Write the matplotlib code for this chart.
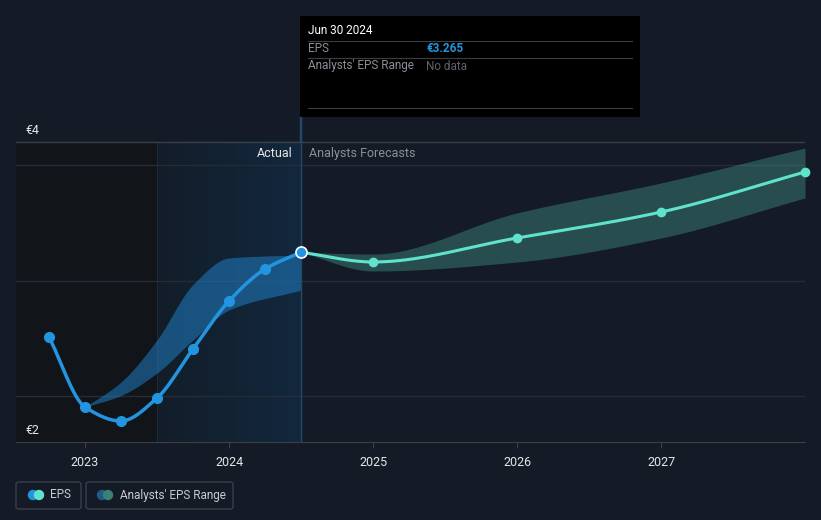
import numpy as np
import matplotlib
matplotlib.use("Agg")
import matplotlib.pyplot as plt
from matplotlib.patches import Rectangle, FancyBboxPatch, Circle

plt.rcParams['font.family'] = ['Roboto', 'DejaVu Sans']

# actual EPS (quarterly, year fractions)
act_x = [2022.75, 2023.0, 2023.25, 2023.5, 2023.75, 2024.0, 2024.25, 2024.5]
act_y = [2.70, 2.233, 2.14, 2.293, 2.62, 2.94, 3.153, 3.265]

# past analyst range
past_x = [2023.0, 2023.25, 2023.5, 2023.75, 2024.0, 2024.5]
past_hi = [2.233, 2.40, 2.68, 3.05, 3.227, 3.247]
past_lo = [2.233, 2.31, 2.46, 2.68, 2.88, 3.013]

# forecast EPS
fc_x = [2024.5, 2025.0, 2026.0, 2027.0, 2028.0]
fc_y = [3.265, 3.20, 3.36, 3.533, 3.80]
fc_hi = [3.265, 3.253, 3.527, 3.727, 3.96]
fc_lo = [3.265, 3.14, 3.20, 3.36, 3.627]

years = [2023, 2024, 2025, 2026, 2027]
grid_vals = [2.307, 3.073, 3.847, 4.0]

BG = '#151b26'
BLUE = '#2394df'
TEAL = '#5fe3cc'


def monotone(xs, ys, n=200):
    # monotone cubic (like d3 curveMonotoneX), only for drawing
    x = np.asarray(xs, float)
    y = np.asarray(ys, float)
    h = np.diff(x)
    d = np.diff(y) / h
    m = np.zeros_like(y)
    m[0], m[-1] = d[0], d[-1]
    for i in range(1, len(y) - 1):
        if d[i - 1] * d[i] <= 0:
            m[i] = 0
        else:
            m[i] = 3 * (h[i - 1] + h[i]) / ((2 * h[i] + h[i - 1]) / d[i - 1] + (h[i] + 2 * h[i - 1]) / d[i])
    xx = np.linspace(x[0], x[-1], n)
    k = np.clip(np.searchsorted(x, xx) - 1, 0, len(x) - 2)
    t = (xx - x[k]) / h[k]
    h00 = 2 * t**3 - 3 * t**2 + 1
    h10 = t**3 - 2 * t**2 + t
    h01 = -2 * t**3 + 3 * t**2
    h11 = t**3 - t**2
    yy = h00 * y[k] + h10 * h[k] * m[k] + h01 * y[k + 1] + h11 * h[k] * m[k + 1]
    return xx, yy


W, H = 821, 520
fig = plt.figure(figsize=(W / 100, H / 100), dpi=100, facecolor=BG)


def fx(px):
    return px / W


def fy(py):
    return 1 - py / H


ax = fig.add_axes([fx(16), fy(442), fx(805) - fx(16), fy(100) - fy(442)])
ax.set_facecolor(BG)
x0 = 2023 + (16 - 85) / 144
ymax = 2 + 342 / 150
ax.set_xlim(x0, 2028.0)
ax.set_ylim(2, ymax)

# shaded regions (only up to the 4 line)
top = (4.0 - 2) / (ymax - 2)
ax.axvspan(x0, 2023.5, ymax=top, color='#111419', zorder=0, lw=0)
grad = np.linspace(0, 1, 256).reshape(1, -1)
cmap = matplotlib.colors.LinearSegmentedColormap.from_list('g', ['#121d29', '#12283d'])
ax.imshow(grad, extent=[2023.5, 2024.5, 2, 4.0], aspect='auto', cmap=cmap, zorder=0.5)
ax.plot([2023.5, 2023.5], [2, 4.0], color='#1a2a3a', lw=0.8, zorder=0.6)

for g in grid_vals:
    ax.axhline(g, color='#3a3f48' if g == 4.0 else '#262c36', lw=1, zorder=1)

# bands
xx, hi = monotone(past_x, past_hi)
_, lo = monotone(past_x, past_lo)
ax.fill_between(xx, lo, hi, color='#2185d0', alpha=0.5, lw=0, zorder=2)
xx, hi = monotone(fc_x, fc_hi)
_, lo = monotone(fc_x, fc_lo)
ax.fill_between(xx, lo, hi, color=TEAL, alpha=0.25, lw=0, zorder=2)

# lines
xx, yy = monotone(fc_x, fc_y)
ax.plot(xx, yy, color=TEAL, lw=2.2, zorder=3)
ax.plot(fc_x[1:], fc_y[1:], 'o', color=TEAL, ms=6, zorder=4, clip_on=False)
xx, yy = monotone(act_x, act_y)
ax.plot(xx, yy, color=BLUE, lw=2.5, zorder=3)
ax.plot(act_x[:-1], act_y[:-1], 'o', color=BLUE, ms=7, zorder=4)
ax.plot(act_x[-1], act_y[-1], 'o', color=BLUE, ms=8, mec='white', mew=1.2, zorder=5)

ax.axvline(2024.5, color='#1f4a6a', lw=1, zorder=2.5)

for s in ['top', 'right', 'left']:
    ax.spines[s].set_visible(False)
ax.spines['bottom'].set_color('#3a3f48')
ax.set_yticks([])
ax.set_xticks(years)
ax.set_xticklabels([str(y) for y in years], color='#e6e6e6', fontsize=9)
ax.tick_params(axis='x', colors='#3a3f48', length=4, labelcolor='#e6e6e6', pad=6)

ax.text(2024.5 - 8 / 144, 3.92, 'Actual', color='#e6e6e6', fontsize=9, ha='right', va='center')
ax.text(2024.5 + 8 / 144, 3.92, 'Analysts Forecasts', color='#8a8f98', fontsize=9, ha='left', va='center')

fig.text(fx(25), fy(130), '€4', color='#e6e6e6', fontsize=9, va='center')
fig.text(fx(25), fy(430), '€2', color='#e6e6e6', fontsize=9, va='center')

# vertical cursor line up into tooltip
fig.add_artist(plt.Line2D([fx(300), fx(300)], [fy(117), fy(142)], color='#1f4a6a', lw=1))

# tooltip
fig.add_artist(Rectangle((fx(300), fy(117)), fx(640) - fx(300), fy(16) - fy(117), color='black', lw=0))
for py in [41, 58, 108]:
    fig.add_artist(plt.Line2D([fx(308), fx(632)], [fy(py), fy(py)], color='#3a3d42', lw=0.8))
fig.text(fx(308), fy(31), 'Jun 30 2024', color='white', fontsize=8.5, va='center')
fig.text(fx(308), fy(49), 'EPS', color='#8a8f98', fontsize=8.5, va='center')
fig.text(fx(426), fy(49), '€3.265', color=BLUE, fontsize=8.5, va='center', fontweight='bold')
fig.text(fx(308), fy(66), "Analysts' EPS Range", color='#8a8f98', fontsize=8.5, va='center')
fig.text(fx(426), fy(66), 'No data', color='#5f636b', fontsize=8.5, va='center')

# legend
for (l, r) in [(16, 81), (86, 233)]:
    fig.add_artist(FancyBboxPatch((fx(l), fy(509)), fx(r) - fx(l), fy(482) - fy(509),
                                  boxstyle='round,pad=0,rounding_size=0.004',
                                  fc='none', ec='#3a3f4a', lw=1))
lax = fig.add_axes([0, 0, 1, 1], facecolor='none')
lax.set_xlim(0, W)
lax.set_ylim(H, 0)
lax.axis('off')
lax.add_patch(Circle((33, 495), 4.5, color=BLUE))
lax.add_patch(Circle((39, 495), 4.5, color=TEAL))
lax.add_patch(Circle((102, 495), 4.5, color='#1f5a8a'))
lax.add_patch(Circle((108, 495), 4.5, color='#3a8074'))
lax.set_aspect('equal', adjustable='datalim')
fig.text(fx(50), fy(495), 'EPS', color='#c8ccd2', fontsize=8.5, va='center')
fig.text(fx(120), fy(495), "Analysts' EPS Range", color='#c8ccd2', fontsize=8.5, va='center')

fig.savefig('out.png', dpi=100, facecolor=BG)
